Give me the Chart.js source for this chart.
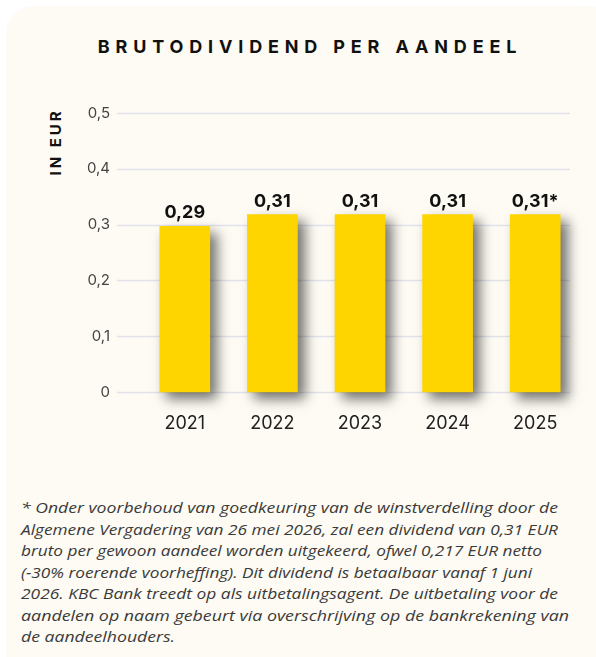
<!DOCTYPE html>
<html>
<head>
<meta charset="utf-8">
<script src="https://cdn.jsdelivr.net/npm/chart.js@4"></script>
<style>
  html, body { margin:0; padding:0; background:#ffffff; width:596px; height:657px; overflow:hidden; }
  #panel { position:absolute; left:6px; top:6px; width:610px; height:680px; background:#FDFBF3; border-radius:28px; }
  #title { position:absolute; left:3px; top:36px; width:614px; text-align:center; font-family:Inter, sans-serif; font-weight:700; font-size:18px; letter-spacing:5.85px; color:#111; }
  #ytitle { position:absolute; left:55px; top:142px; transform:translate(-50%,-50%) rotate(-90deg); font-family:Inter, sans-serif; font-weight:700; font-size:15px; letter-spacing:3px; color:#111; white-space:nowrap; }
  #wrap { position:absolute; left:0; top:0; width:596px; height:460px; }
  #note { position:absolute; left:21px; top:497px; width:580px; font-family:"Open Sans", sans-serif; font-style:italic; font-weight:400; font-size:15px; line-height:21.5px; color:#3a3a3a; white-space:nowrap; }
  #note span { display:inline-block; transform-origin:0 50%; }
</style>
</head>
<body>
<div id="panel"></div>
<div id="title">BRUTODIVIDEND PER AANDEEL</div>
<div id="ytitle">IN EUR</div>
<div id="wrap"><canvas id="c"></canvas></div>
<div id="note"><span>* Onder voorbehoud van goedkeuring van de winstverdelling door de</span><br><span>Algemene Vergadering van 26 mei 2026, zal een dividend van 0,31 EUR</span><br><span>bruto per gewoon aandeel worden uitgekeerd, ofwel 0,217 EUR netto</span><br><span>(-30% roerende voorheffing). Dit dividend is betaalbaar vanaf 1 juni</span><br><span>2026. KBC Bank treedt op als uitbetalingsagent. De uitbetaling voor de</span><br><span>aandelen op naam gebeurt via overschrijving op de bankrekening van</span><br><span>de aandeelhouders.</span></div>
<script>
const years = ['2021', '2022', '2023', '2024', '2025'];
const values = [0.297, 0.318, 0.318, 0.318, 0.318];
const valueLabels = ['0,29', '0,31', '0,31', '0,31', '0,31*'];
const yTicks = [0, 0.1, 0.2, 0.3, 0.4, 0.5];

// footnote line widths in the reference (layout only)
const noteWidths = [537, 537, 521, 511, 537, 548, 154];
document.querySelectorAll('#note span').forEach((s, i) => {
  const w = s.getBoundingClientRect().width;
  s.style.transform = 'scaleX(' + (noteWidths[i] / w) + ')';
});

const fmt = v => (Math.round(v * 10) / 10).toString().replace('.', ',');

const gridPlugin = {
  id: 'gridPlugin',
  beforeDatasetsDraw(chart) {
    const ctx = chart.ctx, y = chart.scales.y;
    ctx.save();
    ctx.strokeStyle = '#e2e3ea';
    ctx.lineWidth = 1.5;
    yTicks.forEach(t => {
      const py = Math.round(y.getPixelForValue(t)) + 0.5;
      ctx.beginPath();
      ctx.moveTo(117, py);
      ctx.lineTo(570, py);
      ctx.stroke();
    });
    ctx.restore();
    ctx.save();
    ctx.shadowColor = 'rgba(0,0,0,0.55)';
    ctx.shadowBlur = 12;
    ctx.shadowOffsetX = 7;
    ctx.shadowOffsetY = 7;
  },
  afterDatasetsDraw(chart) {
    const ctx = chart.ctx;
    ctx.restore();
    ctx.save();
    ctx.font = '700 18px Inter, sans-serif';
    ctx.fillStyle = '#111';
    ctx.textAlign = 'center';
    ctx.textBaseline = 'alphabetic';
    chart.getDatasetMeta(0).data.forEach((bar, i) => {
      ctx.fillText(valueLabels[i], bar.x, bar.y - 8);
    });
    ctx.restore();
  }
};

new Chart(document.getElementById('c'), {
  type: 'bar',
  data: {
    labels: years,
    datasets: [{
      data: values,
      backgroundColor: '#FFD500',
      barThickness: 50,
      clip: false
    }]
  },
  options: {
    responsive: true,
    maintainAspectRatio: false,
    animation: false,
    layout: { padding: { left: 0, right: 17, top: 113, bottom: 0 } },
    plugins: { legend: { display: false }, tooltip: { enabled: false }, title: { display: false } },
    scales: {
      x: {
        grid: { display: false, drawTicks: false },
        border: { display: false },
        ticks: { padding: 21, color: '#222', font: { family: 'Inter, sans-serif', size: 18 } },
        afterFit(s) { s.height = 68; }
      },
      y: {
        min: 0, max: 0.5,
        afterBuildTicks(s) { s.ticks = yTicks.map(v => ({ value: v })); },
        grid: { display: false, drawTicks: false },
        border: { display: false },
        ticks: { padding: 31, color: '#444', font: { family: 'Inter, sans-serif', size: 15 }, callback: v => fmt(v) },
        afterFit(s) { s.width = 141; }
      }
    }
  },
  plugins: [gridPlugin]
});
</script>
</body>
</html>
